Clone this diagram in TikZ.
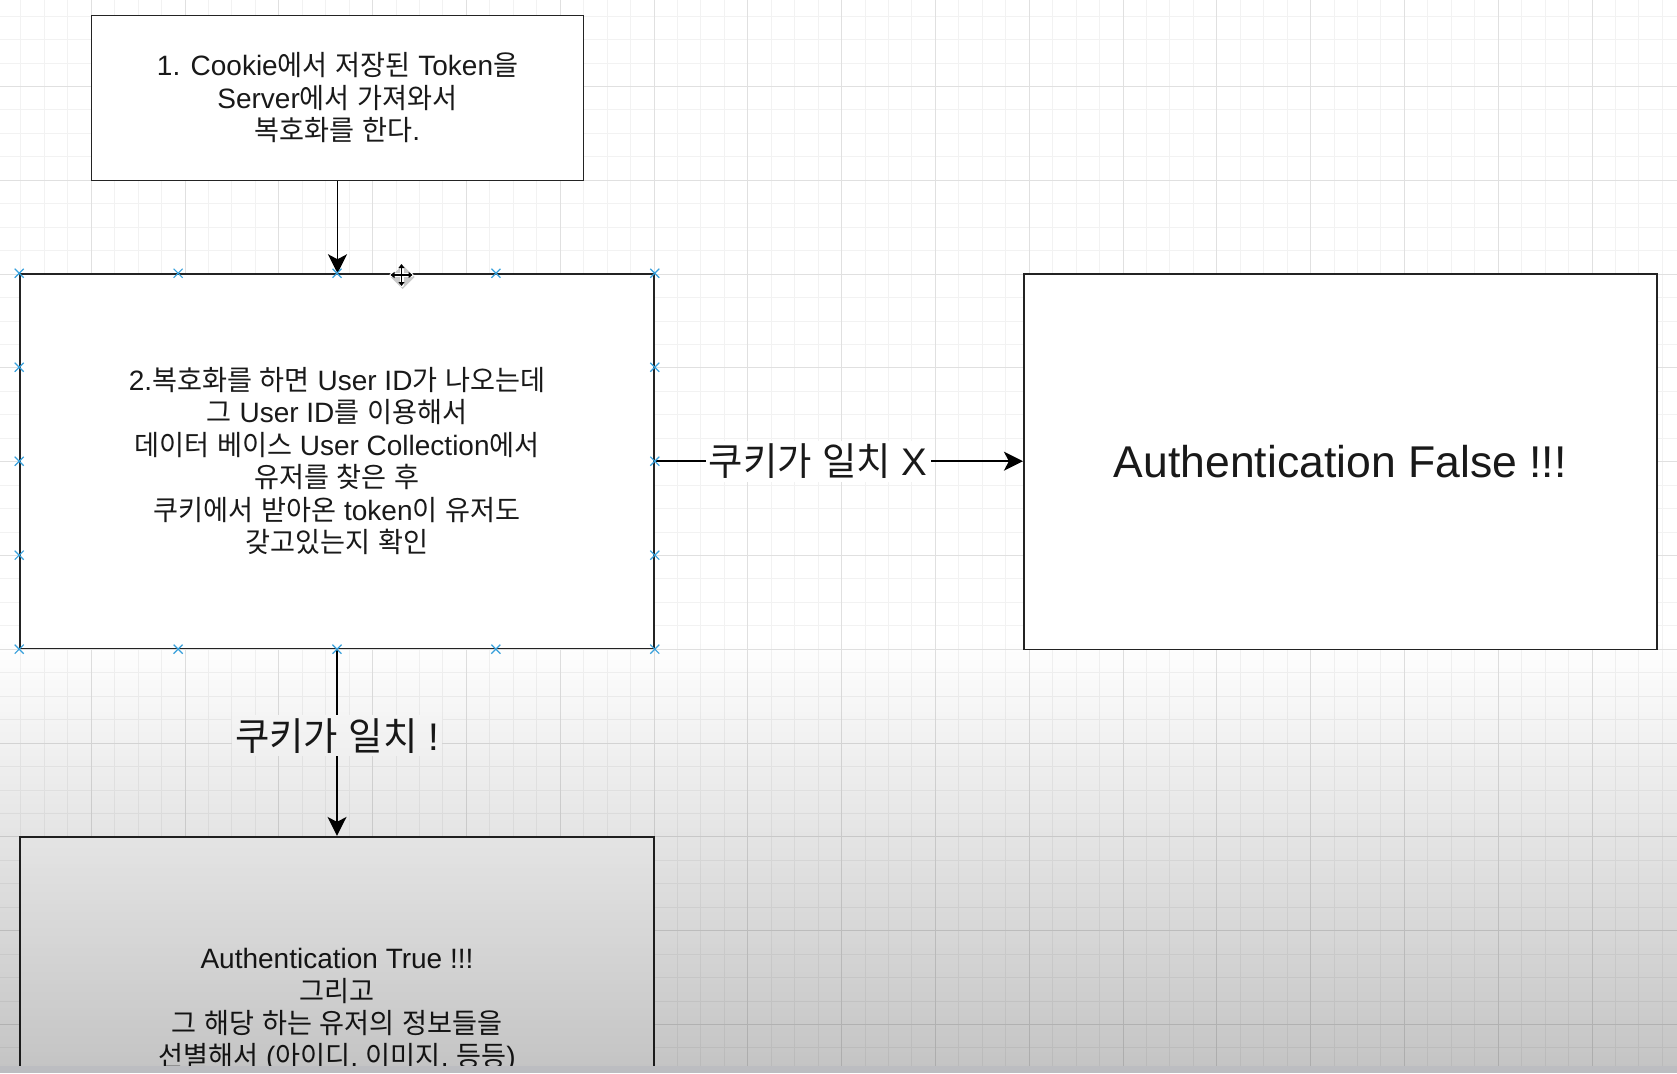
\documentclass[tikz,border=0pt]{standalone}
\usepackage{fontspec}
\setmainfont{Liberation Sans}
\newfontfamily\krfont[FakeStretch=0.97]{Noto Sans CJK KR}
\XeTeXinterchartokenstate=1
\newXeTeXintercharclass\hangulclass
\makeatletter
\count@="AC00
\loop\ifnum\count@<"D7A4
  \XeTeXcharclass\count@=\hangulclass
  \advance\count@ by 1
\repeat
\makeatother
\XeTeXinterchartoks 0 \hangulclass={\krfont}
\XeTeXinterchartoks 4095 \hangulclass={\krfont}
\XeTeXinterchartoks \hangulclass 0={\rmfamily}
\XeTeXinterchartoks \hangulclass 4095={\rmfamily}
\usetikzlibrary{arrows.meta,calc}
\definecolor{gridmajor}{RGB}{224,224,224}
\definecolor{gridminor}{RGB}{242,242,242}
\definecolor{boxline}{RGB}{35,35,35}
\definecolor{txt}{RGB}{25,25,25}
\definecolor{handlecol}{RGB}{55,160,220}
\definecolor{barcol}{RGB}{188,189,193}
\newcommand\boxfont{\fontsize{28}{32.5}\selectfont}
\newcommand\lblfont{\fontsize{38.5}{44}\selectfont}
\newcommand\bigfont{\fontsize{44.5}{50}\selectfont}
\tikzset{
  box/.style={draw=boxline, line width=1.6pt, fill=white, inner sep=0pt,
    align=center, text=txt, font=\boxfont},
  arr/.style={draw=black, line width=1.5pt,
    -{Stealth[length=19pt,width=19pt,inset=5pt]}},
  lbl/.style={fill=white, inner sep=3pt, text=txt, font=\lblfont},
  gridmin/.style={draw=gridminor, line width=1pt},
  gridmaj/.style={draw=gridmajor, line width=1pt},
  hx/.pic={\draw[draw=handlecol, line width=1.2pt] (-4.5,-4.5)--(4.5,4.5) (-4.5,4.5)--(4.5,-4.5);}
}
\begin{document}
\begin{tikzpicture}[x=1pt,y=-1pt]
\useasboundingbox (0,0) rectangle (1677,1073);
\begin{scope}
\clip (0,0) rectangle (1677,1066);
\fill[white] (0,0) rectangle (1677,1073);
% grid
\foreach \k in {-3,...,67} {
  \pgfmathsetmacro\xx{91.2+23.45*\k}
  \draw[gridmin] (\xx,0) -- (\xx,1073);
}
\foreach \k in {-3,...,42} {
  \pgfmathsetmacro\yy{86.5+23.45*\k}
  \draw[gridmin] (0,\yy) -- (1677,\yy);
}
\foreach \j in {0,...,16} {
  \pgfmathsetmacro\xx{91.2+93.8*\j}
  \draw[gridmaj] (\xx,0) -- (\xx,1073);
}
\foreach \j in {-1,...,10} {
  \pgfmathsetmacro\yy{86.5+93.8*\j}
  \draw[gridmaj] (0,\yy) -- (1677,\yy);
}
% boxes
\node[box, minimum width=492pt, minimum height=164.6pt] (b1) at (337.5,98)
  {1. Cookie에서 저장된 Token을\\Server에서 가져와서\\복호화를 한다.};
\node[box, minimum width=634pt, minimum height=374.3pt] (b2) at (337,461.2)
  {2.복호화를 하면 User ID가 나오는데\\그 User ID를 이용해서\\데이터 베이스 User Collection에서\\유저를 찾은 후\\쿠키에서 받아온 token이 유저도\\갖고있는지 확인};
\node[box, minimum width=633pt, minimum height=375.4pt, font=\bigfont] (b3) at (1340.2,461.6)
  {Authentication False !!!};
\node[box, minimum width=634pt, minimum height=374pt] (b4) at (337,1023.7)
  {Authentication True !!!\\그리고\\그 해당 하는 유저의 정보들을\\선별해서 (아이디, 이미지, 등등)\\ \mbox{}};
% connectors
\draw[arr] (b1.south) -- (b1.south |- b2.north);
\draw[arr] (b2.east) -- node[lbl, pos=0.444] (l1) {쿠키가 일치 X} (b2.east -| b3.west);
\draw[arr] (b2.south) -- node[lbl, pos=0.463] (l2) {쿠키가 일치 !} (b2.south |- b4.north);
% selection handles
\foreach \f in {0,0.25,0.5,0.75,1} {
  \path ($(b2.north west)!\f!(b2.north east)$) pic{hx};
  \path ($(b2.south west)!\f!(b2.south east)$) pic{hx};
}
\foreach \f in {0.25,0.5,0.75} {
  \path ($(b2.north west)!\f!(b2.south west)$) pic{hx};
  \path ($(b2.north east)!\f!(b2.south east)$) pic{hx};
}
% move cursor
\begin{scope}[shift={(401.5,275)}]
  \fill[black!35, opacity=0.6] (1,-10) -- (13,2) -- (1,14) -- (-11,2) -- cycle;
  \draw[white, line width=4pt, line cap=round] (-10,0) -- (10,0) (0,-10) -- (0,10);
  \draw[black, line width=1.6pt, {Triangle[length=4pt,width=6pt]}-{Triangle[length=4pt,width=6pt]}] (-11,0) -- (11,0);
  \draw[black, line width=1.6pt, {Triangle[length=4pt,width=6pt]}-{Triangle[length=4pt,width=6pt]}] (0,-11) -- (0,11);
\end{scope}
% video gradient overlay
\foreach \i in {0,...,106} {
  \pgfmathsetmacro\op{0.23*\i/106}
  \fill[black, opacity=\op] (0,640+4*\i) rectangle (1677,644+4*\i);
}
\end{scope}
\fill[barcol] (0,1066) rectangle (1677,1073);
\end{tikzpicture}
\end{document}
